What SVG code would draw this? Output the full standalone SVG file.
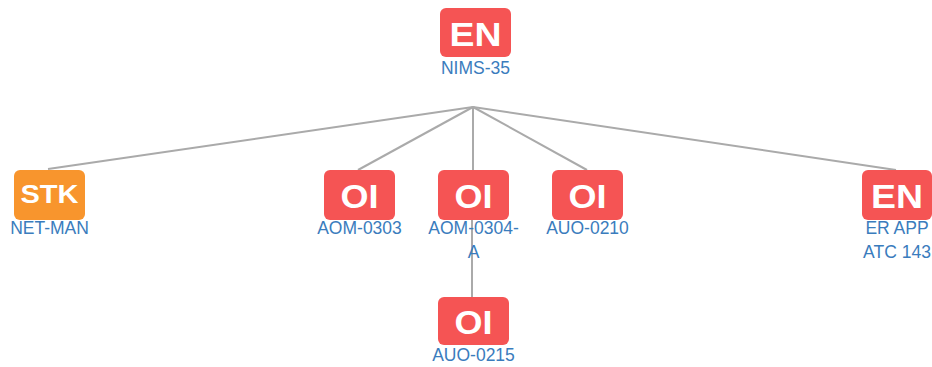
<svg xmlns="http://www.w3.org/2000/svg" width="932" height="367" viewBox="0 0 932 367">
<style>
.box{fill:#f55454}
.stk{fill:#f8952d}
.t{fill:#fff;font-family:"Liberation Sans",Arial,sans-serif;font-weight:bold;text-anchor:middle}
.l{fill:#3a7cbd;font-family:"Liberation Sans",Arial,sans-serif;font-size:17.5px;text-anchor:middle}
.e{stroke:#aaaaaa;stroke-width:2;fill:none}
</style>
<rect width="932" height="367" fill="#fff"/>
<g id="connectors">
<line class="e" x1="473" y1="107" x2="48" y2="169"/>
<line class="e" x1="473" y1="107" x2="358" y2="170"/>
<line class="e" x1="473" y1="107" x2="473" y2="170"/>
<line class="e" x1="473" y1="107" x2="587" y2="170"/>
<line class="e" x1="473" y1="107" x2="896" y2="170"/>
<line class="e" x1="472" y1="220" x2="472" y2="297"/>
</g>
<g id="n-nims35">
<rect class="box" x="440" y="8" width="71" height="49" rx="6"/>
<text class="t" x="475.5" y="46" font-size="34" textLength="52" lengthAdjust="spacingAndGlyphs">EN</text>
<text class="l" x="475.5" y="74">NIMS-35</text>
</g>
<g id="n-netman">
<rect class="stk" x="14" y="170" width="71" height="50" rx="6"/>
<text class="t" x="49.5" y="203" font-size="26" textLength="58" lengthAdjust="spacingAndGlyphs">STK</text>
<text class="l" x="49.5" y="234">NET-MAN</text>
</g>
<g id="n-aom0303">
<rect class="box" x="324" y="170" width="71" height="50" rx="6"/>
<text class="t" x="359.5" y="208" font-size="33" textLength="38" lengthAdjust="spacingAndGlyphs">OI</text>
<text class="l" x="359.5" y="234">AOM-0303</text>
</g>
<g id="n-aom0304a">
<rect class="box" x="438" y="170" width="71" height="50" rx="6"/>
<text class="t" x="473.5" y="208" font-size="33" textLength="38" lengthAdjust="spacingAndGlyphs">OI</text>
<text class="l" x="473.5" y="234">AOM-0304-</text>
<text class="l" x="473.5" y="258">A</text>
</g>
<g id="n-auo0210">
<rect class="box" x="552" y="170" width="71" height="50" rx="6"/>
<text class="t" x="587.5" y="208" font-size="33" textLength="38" lengthAdjust="spacingAndGlyphs">OI</text>
<text class="l" x="587.5" y="234">AUO-0210</text>
</g>
<g id="n-erapp">
<rect class="box" x="862" y="170" width="70" height="50" rx="6"/>
<text class="t" x="897" y="208" font-size="34" textLength="52" lengthAdjust="spacingAndGlyphs">EN</text>
<text class="l" x="897" y="234">ER APP</text>
<text class="l" x="897" y="258">ATC 143</text>
</g>
<g id="n-auo0215">
<rect class="box" x="438" y="297" width="71" height="48" rx="6"/>
<text class="t" x="473.5" y="334" font-size="33" textLength="38" lengthAdjust="spacingAndGlyphs">OI</text>
<text class="l" x="473.5" y="361">AUO-0215</text>
</g>
</svg>
